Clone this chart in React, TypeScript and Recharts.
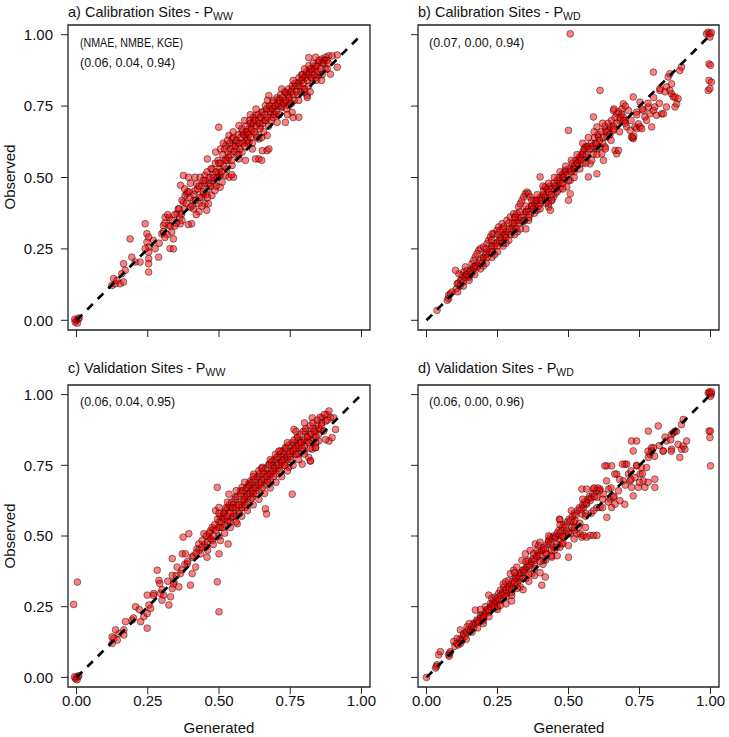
import { ScatterChart, Scatter, XAxis, YAxis, ReferenceArea } from 'recharts';

type Pt = [number, number];

const ticks = [0, 0.25, 0.5, 0.75, 1];
const titles = ['a) Calibration Sites - P', 'b) Calibration Sites - P', 'c) Validation Sites - P', 'd) Validation Sites - P'];
const subs = ['WW', 'WD', 'WW', 'WD'];
const statsHeader = '(NMAE, NMBE, KGE)';
const stats = ['(0.06, 0.04, 0.94)', '(0.07, 0.00, 0.94)', '(0.06, 0.04, 0.95)', '(0.06, 0.00, 0.96)'];
const oneToOne = [{ x: 0, y: 0 }, { x: 1, y: 1 }];

const X_DOM: [number, number] = [-0.03, 1.03];
const Y_DOM: [number, number] = [-0.034, 1.034];

// a) calibration sites, P_WW (generated, observed)
const calPww: Pt[] = [
  [0, 0], [0.006, 0.004], [-0.005, -0.006], [0.003, -0.01], [-0.006, 0.004], [0.009, 0.008],
  [0.124, 0.122], [0.136, 0.128], [0.13, 0.146], [0.142, 0.14], [0.153, 0.128], [0.165, 0.134],
  [0.159, 0.163], [0.171, 0.175], [0.165, 0.198], [0.194, 0.221], [0.188, 0.285], [0.206, 0.204],
  [0.223, 0.204], [0.241, 0.338], [0.247, 0.303], [0.253, 0.291], [0.247, 0.274], [0.253, 0.256],
  [0.253, 0.239], [0.253, 0.216], [0.253, 0.198], [0.253, 0.169], [0.241, 0.251], [0.276, 0.251],
  [0.288, 0.221], [0.299, 0.303], [0.305, 0.332], [0.311, 0.361], [0.323, 0.332], [0.328, 0.251],
  [0.334, 0.309], [0.34, 0.25], [0.34, 0.285], [0.352, 0.373], [0.364, 0.338], [0.369, 0.373],
  [0.375, 0.414], [0.381, 0.437], [0.387, 0.443], [0.399, 0.396], [0.404, 0.338], [0.41, 0.419],
  [0.416, 0.454], [0.422, 0.478], [0.428, 0.408], [0.44, 0.431], [0.446, 0.443], [0.451, 0.408],
  [0.457, 0.385], [0.463, 0.408], [0.463, 0.478], [0.475, 0.437], [0.486, 0.454], [0.498, 0.501],
  [0.504, 0.507], [0.375, 0.507], [0.393, 0.501], [0.416, 0.501], [0.434, 0.501], [0.451, 0.507],
  [0.475, 0.489], [0.504, 0.466], [0.365, 0.473], [0.392, 0.335], [0.43, 0.38], [0.44, 0.4],
  [0.499, 0.676], [0.459, 0.565], [0.476, 0.53], [0.499, 0.518], [0.523, 0.507], [0.551, 0.501],
  [0.488, 0.589], [0.505, 0.6], [0.523, 0.612], [0.535, 0.647], [0.546, 0.635], [0.558, 0.624],
  [0.57, 0.682], [0.581, 0.659], [0.593, 0.647], [0.605, 0.67], [0.617, 0.693], [0.628, 0.717],
  [0.64, 0.705], [0.652, 0.728], [0.663, 0.752], [0.675, 0.74], [0.687, 0.763], [0.698, 0.752],
  [0.71, 0.775], [0.722, 0.763], [0.733, 0.798], [0.745, 0.787], [0.757, 0.81], [0.768, 0.822],
  [0.78, 0.833], [0.792, 0.845], [0.803, 0.857], [0.815, 0.868], [0.827, 0.88], [0.839, 0.892],
  [0.85, 0.903], [0.862, 0.915], [0.874, 0.921], [0.885, 0.926], [0.897, 0.926], [0.915, 0.929],
  [0.839, 0.921], [0.675, 0.787], [0.669, 0.647], [0.652, 0.594], [0.669, 0.594], [0.628, 0.565],
  [0.593, 0.56], [0.78, 0.711], [0.809, 0.787], [0.891, 0.862], [0.915, 0.886], [0.757, 0.728],
  [0.733, 0.693], [0.704, 0.693], [0.64, 0.635], [0.617, 0.6], [0.57, 0.565], [0.523, 0.565],
  [0.546, 0.542], [0.511, 0.484], [0.535, 0.501], [0.581, 0.589], [0.605, 0.624], [0.745, 0.752],
  [0.792, 0.81], [0.827, 0.845], [0.85, 0.857], [0.815, 0.892], [0.862, 0.903], [0.815, 0.92],
  [0.545, 0.51], [0.64, 0.565], [0.65, 0.56], [0.675, 0.6], [0.76, 0.71], [0.81, 0.78],
  [0.62, 0.71], [0.7, 0.72], [0.72, 0.745], [0.66, 0.7], [0.6, 0.62], [0.595, 0.64],
  [0.61, 0.69], [0.63, 0.65], [0.69, 0.74], [0.71, 0.75], [0.735, 0.765], [0.755, 0.76],
  [0.79, 0.86], [0.8, 0.8], [0.84, 0.85], [0.87, 0.91], [0.56, 0.6], [0.575, 0.62],
  [0.53, 0.56], [0.54, 0.58], [0.6, 0.655], [0.615, 0.665], [0.645, 0.68], [0.68, 0.72],
  [0.305, 0.31], [0.31, 0.34], [0.318, 0.3], [0.325, 0.36], [0.33, 0.33], [0.345, 0.37],
  [0.35, 0.34], [0.357, 0.39], [0.362, 0.36], [0.37, 0.42], [0.378, 0.39], [0.385, 0.41],
  [0.39, 0.45], [0.398, 0.43], [0.405, 0.4], [0.412, 0.44], [0.418, 0.42], [0.425, 0.46],
  [0.432, 0.43], [0.438, 0.47], [0.444, 0.45], [0.449, 0.48], [0.455, 0.44],
  [0.452, 0.49], [0.458, 0.52], [0.463, 0.46], [0.468, 0.5], [0.472, 0.53], [0.479, 0.51],
  [0.483, 0.48], [0.487, 0.55], [0.49, 0.52], [0.494, 0.5], [0.497, 0.56], [0.502, 0.53],
  [0.506, 0.55], [0.509, 0.52], [0.513, 0.58], [0.517, 0.54], [0.52, 0.6], [0.524, 0.56],
  [0.527, 0.53], [0.531, 0.59], [0.534, 0.57], [0.538, 0.62], [0.541, 0.6], [0.544, 0.56],
  [0.548, 0.61], [0.551, 0.64], [0.554, 0.59], [0.557, 0.61], [0.561, 0.63], [0.564, 0.58],
  [0.567, 0.65], [0.571, 0.62], [0.574, 0.6], [0.577, 0.64], [0.58, 0.67], [0.584, 0.62],
  [0.587, 0.65], [0.59, 0.61], [0.594, 0.68], [0.597, 0.66], [0.601, 0.63], [0.604, 0.65],
  [0.607, 0.7], [0.611, 0.64], [0.614, 0.67], [0.617, 0.62], [0.621, 0.69], [0.624, 0.66],
  [0.627, 0.7], [0.631, 0.68], [0.634, 0.64], [0.637, 0.72], [0.641, 0.69], [0.644, 0.67],
  [0.647, 0.71], [0.651, 0.73], [0.654, 0.69], [0.657, 0.66], [0.661, 0.72], [0.664, 0.7],
  [0.667, 0.74], [0.671, 0.71], [0.674, 0.68], [0.677, 0.75], [0.681, 0.73], [0.684, 0.7],
  [0.687, 0.74], [0.691, 0.77], [0.694, 0.72], [0.697, 0.75], [0.701, 0.73], [0.704, 0.78],
  [0.707, 0.76], [0.711, 0.72], [0.714, 0.77], [0.717, 0.79], [0.721, 0.75], [0.724, 0.78],
  [0.727, 0.76], [0.731, 0.8], [0.734, 0.77], [0.737, 0.74], [0.741, 0.79], [0.744, 0.81],
  [0.747, 0.78], [0.751, 0.76], [0.754, 0.8], [0.757, 0.82], [0.761, 0.79], [0.764, 0.77],
  [0.767, 0.83], [0.771, 0.8], [0.774, 0.82], [0.777, 0.79], [0.781, 0.85], [0.784, 0.82],
  [0.787, 0.8], [0.791, 0.84], [0.794, 0.86], [0.797, 0.83], [0.801, 0.81], [0.804, 0.85],
  [0.807, 0.87], [0.811, 0.84], [0.814, 0.82], [0.817, 0.86], [0.821, 0.88], [0.824, 0.85],
  [0.827, 0.87], [0.831, 0.9], [0.834, 0.86], [0.837, 0.88], [0.841, 0.84], [0.844, 0.89],
  [0.847, 0.87], [0.851, 0.91], [0.857, 0.88], [0.862, 0.86], [0.868, 0.9], [0.873, 0.88],
  [0.879, 0.91], [0.884, 0.9], [0.27, 0.28], [0.29, 0.27], [0.31, 0.29], [0.32, 0.37],
  [0.335, 0.35], [0.345, 0.33], [0.36, 0.39], [0.37, 0.35], [0.38, 0.46], [0.395, 0.45],
  [0.4, 0.48], [0.41, 0.39], [0.42, 0.37], [0.43, 0.47], [0.445, 0.49], [0.46, 0.43],
  [0.47, 0.47], [0.48, 0.5], [0.49, 0.47], [0.5, 0.55], [0.515, 0.62], [0.53, 0.63],
  [0.55, 0.66], [0.57, 0.58], [0.59, 0.7], [0.61, 0.72], [0.63, 0.74], [0.65, 0.64],
  [0.67, 0.77], [0.69, 0.71], [0.72, 0.81], [0.74, 0.72], [0.76, 0.84], [0.78, 0.77],
  [0.8, 0.88], [0.82, 0.8], [0.86, 0.84], [0.88, 0.88],
];

// b) calibration sites, P_WD
const calPwd: Pt[] = [
  [0.037, 0.035], [0.073, 0.07], [0.078, 0.088], [0.084, 0.093], [0.09, 0.099], [0.078, 0.076],
  [0.108, 0.128], [0.119, 0.14], [0.125, 0.158], [0.131, 0.169], [0.137, 0.187], [0.114, 0.163],
  [0.102, 0.175], [0.143, 0.175], [0.155, 0.175], [0.16, 0.198], [0.166, 0.187], [0.172, 0.222],
  [0.178, 0.233], [0.184, 0.245], [0.166, 0.21], [0.19, 0.251], [0.201, 0.257], [0.213, 0.268],
  [0.219, 0.28], [0.225, 0.292], [0.231, 0.303], [0.237, 0.303], [0.248, 0.315], [0.254, 0.327],
  [0.26, 0.315], [0.266, 0.338], [0.272, 0.327], [0.272, 0.28], [0.278, 0.298], [0.283, 0.35],
  [0.295, 0.362], [0.301, 0.338], [0.307, 0.373], [0.313, 0.362], [0.318, 0.373], [0.324, 0.397],
  [0.33, 0.408], [0.336, 0.42], [0.342, 0.432], [0.348, 0.443], [0.354, 0.449], [0.359, 0.443],
  [0.365, 0.432], [0.377, 0.42], [0.383, 0.397], [0.389, 0.385], [0.4, 0.502], [0.4, 0.408],
  [0.406, 0.432], [0.412, 0.455], [0.418, 0.467], [0.424, 0.443], [0.43, 0.397], [0.436, 0.385],
  [0.441, 0.42], [0.447, 0.432], [0.453, 0.443], [0.459, 0.467], [0.465, 0.478], [0.471, 0.49],
  [0.477, 0.502], [0.482, 0.513], [0.488, 0.525], [0.494, 0.467], [0.5, 0.42], [0.506, 0.443],
  [0.506, 0.49], [0.512, 0.525], [0.518, 0.537], [0.523, 0.543], [0.529, 0.548], [0.535, 0.56],
  [0.541, 0.572], [0.547, 0.583], [0.553, 0.595], [0.559, 0.607], [0.564, 0.572], [0.57, 0.502],
  [0.576, 0.548], [0.582, 0.56], [0.588, 0.583], [0.594, 0.618], [0.6, 0.513], [0.605, 0.642],
  [0.611, 0.607], [0.617, 0.583], [0.623, 0.56], [0.629, 0.607], [0.635, 0.642], [0.641, 0.665],
  [0.646, 0.677], [0.658, 0.665], [0.664, 0.595], [0.67, 0.583], [0.676, 0.595], [0.681, 0.7],
  [0.687, 0.723], [0.693, 0.712], [0.699, 0.7], [0.705, 0.677], [0.717, 0.665], [0.722, 0.642],
  [0.728, 0.636], [0.725, 0.64], [0.73, 0.645], [0.734, 0.677], [0.74, 0.671], [0.746, 0.688],
  [0.752, 0.677], [0.758, 0.671], [0.763, 0.735], [0.769, 0.712], [0.775, 0.7], [0.781, 0.747],
  [0.787, 0.723], [0.793, 0.677], [0.799, 0.735], [0.804, 0.747], [0.81, 0.718], [0.822, 0.805],
  [0.828, 0.723], [0.834, 0.723], [0.845, 0.817], [0.851, 0.852], [0.857, 0.805], [0.863, 0.828],
  [0.863, 0.793], [0.869, 0.782], [0.875, 0.747], [0.881, 0.758], [0.886, 0.776], [0.892, 0.875],
  [0.898, 0.887], [0.845, 0.747], [0.857, 0.863], [0.611, 0.805], [0.658, 0.735], [0.67, 0.723],
  [0.693, 0.758], [0.711, 0.735], [0.728, 0.782], [0.74, 0.729], [0.752, 0.764], [0.799, 0.869],
  [0.822, 0.811], [0.875, 0.782], [0.5, 0.665], [0.506, 1.003], [0.588, 0.712], [0.6, 0.677],
  [0.564, 0.607], [0.629, 0.665], [0.986, 1.003], [0.992, 1.009], [0.998, 1.003], [1.003, 1.007],
  [0.998, 0.992], [0.995, 0.898], [1.0, 0.893], [0.995, 0.84], [1.003, 0.834], [0.992, 0.805],
  [0.998, 0.811], [0.2, 0.22], [0.21, 0.235], [0.23, 0.26], [0.245, 0.27], [0.26, 0.29],
  [0.28, 0.31], [0.3, 0.32], [0.32, 0.35], [0.35, 0.38], [0.37, 0.4], [0.39, 0.42],
  [0.42, 0.42], [0.45, 0.46], [0.47, 0.46], [0.52, 0.52], [0.55, 0.55], [0.58, 0.6],
  [0.6, 0.6], [0.62, 0.62], [0.65, 0.63], [0.15, 0.15], [0.18, 0.19], [0.14, 0.16],
  [0.105, 0.11], [0.112, 0.13], [0.118, 0.12], [0.124, 0.14], [0.13, 0.135], [0.136, 0.15],
  [0.142, 0.16], [0.148, 0.155], [0.154, 0.17], [0.16, 0.165], [0.166, 0.18], [0.172, 0.19],
  [0.178, 0.185], [0.184, 0.2], [0.19, 0.21], [0.196, 0.2], [0.202, 0.22], [0.208, 0.23],
  [0.214, 0.22], [0.22, 0.24], [0.226, 0.25], [0.232, 0.24], [0.238, 0.26], [0.244, 0.27],
  [0.25, 0.26], [0.256, 0.28], [0.262, 0.29], [0.268, 0.27], [0.274, 0.3], [0.28, 0.29],
  [0.286, 0.31], [0.292, 0.32], [0.298, 0.3], [0.304, 0.33], [0.31, 0.34], [0.316, 0.32],
  [0.322, 0.35], [0.328, 0.34], [0.334, 0.36], [0.34, 0.37], [0.346, 0.35], [0.352, 0.38],
  [0.358, 0.39], [0.364, 0.37], [0.37, 0.4], [0.376, 0.39], [0.382, 0.41], [0.388, 0.42],
  [0.394, 0.4], [0.4, 0.43], [0.406, 0.42], [0.412, 0.44], [0.418, 0.43], [0.424, 0.46],
  [0.43, 0.45], [0.436, 0.47], [0.442, 0.46], [0.448, 0.48], [0.454, 0.47], [0.46, 0.49],
  [0.466, 0.5], [0.472, 0.48], [0.478, 0.51], [0.484, 0.5], [0.49, 0.52], [0.496, 0.51],
  [0.502, 0.53], [0.508, 0.52], [0.514, 0.55], [0.52, 0.53], [0.526, 0.56], [0.532, 0.55],
  [0.538, 0.57], [0.544, 0.56], [0.55, 0.58], [0.556, 0.6], [0.562, 0.58], [0.568, 0.61],
  [0.574, 0.6], [0.58, 0.62], [0.586, 0.61], [0.592, 0.64], [0.598, 0.62], [0.604, 0.65],
  [0.61, 0.63], [0.616, 0.66], [0.622, 0.64], [0.628, 0.68], [0.634, 0.66], [0.64, 0.69],
  [0.646, 0.65], [0.652, 0.7], [0.658, 0.68], [0.664, 0.71], [0.67, 0.69], [0.676, 0.73],
  [0.682, 0.71], [0.688, 0.74], [0.694, 0.7], [0.7, 0.75], [0.2, 0.19], [0.24, 0.23],
  [0.28, 0.27], [0.32, 0.31], [0.36, 0.35], [0.44, 0.42], [0.48, 0.46], [0.35, 0.32],
  [0.43, 0.41], [0.11, 0.1], [0.13, 0.12], [0.15, 0.14], [0.17, 0.16], [0.19, 0.18],
  [0.21, 0.2], [0.23, 0.22], [0.25, 0.24], [0.27, 0.26], [0.29, 0.28], [0.31, 0.3],
  [0.33, 0.32], [0.34, 0.345], [0.36, 0.36], [0.38, 0.375], [0.4, 0.39], [0.42, 0.41],
  [0.44, 0.44], [0.46, 0.45], [0.48, 0.48], [0.5, 0.49], [0.52, 0.5], [0.54, 0.53],
  [0.56, 0.55], [0.21, 0.25], [0.23, 0.28], [0.25, 0.3], [0.27, 0.32], [0.29, 0.34],
  [0.31, 0.36], [0.33, 0.38], [0.35, 0.4], [0.37, 0.42], [0.39, 0.44], [0.41, 0.47],
  [0.43, 0.48], [0.45, 0.5], [0.47, 0.52], [0.49, 0.54], [0.51, 0.56], [0.53, 0.58],
  [0.55, 0.62], [0.57, 0.64], [0.59, 0.66], [0.62, 0.69], [0.66, 0.74], [0.7, 0.69],
  [0.72, 0.7], [0.76, 0.74], [0.78, 0.76], [0.8, 0.78], [0.82, 0.76], [0.84, 0.8],
  [0.66, 0.67], [0.68, 0.66], [0.74, 0.72], [0.6, 0.58], [0.63, 0.6],
];

// c) validation sites, P_WW
const valPww: Pt[] = [
  [0, 0], [0.005, 0.003], [-0.004, -0.005], [0.002, -0.008], [0.008, 0.006], [-0.007, 0.002],
  [-0.01, 0.258], [0.003, 0.337], [0.125, 0.12], [0.131, 0.138], [0.137, 0.168], [0.125, 0.143],
  [0.143, 0.132], [0.149, 0.155], [0.166, 0.168], [0.166, 0.15], [0.172, 0.197], [0.195, 0.203],
  [0.207, 0.25], [0.225, 0.197], [0.236, 0.215], [0.248, 0.226], [0.248, 0.174], [0.254, 0.256],
  [0.248, 0.291], [0.26, 0.244], [0.271, 0.297], [0.283, 0.379], [0.289, 0.343], [0.292, 0.332],
  [0.295, 0.297], [0.3, 0.273], [0.306, 0.291], [0.324, 0.256], [0.33, 0.285], [0.336, 0.314],
  [0.336, 0.361], [0.336, 0.42], [0.342, 0.338], [0.353, 0.39], [0.359, 0.32], [0.365, 0.367],
  [0.371, 0.437], [0.374, 0.496], [0.382, 0.437], [0.388, 0.402], [0.394, 0.508], [0.4, 0.326],
  [0.406, 0.367], [0.406, 0.425], [0.418, 0.39], [0.423, 0.455], [0.429, 0.472], [0.435, 0.437],
  [0.441, 0.484], [0.447, 0.508], [0.453, 0.461], [0.458, 0.425], [0.464, 0.496], [0.47, 0.519],
  [0.476, 0.484], [0.482, 0.525], [0.488, 0.59], [0.494, 0.672], [0.494, 0.338], [0.5, 0.232],
  [0.5, 0.549], [0.5, 0.601], [0.5, 0.437], [0.505, 0.484], [0.505, 0.531], [0.511, 0.566],
  [0.517, 0.578], [0.523, 0.59], [0.529, 0.555], [0.532, 0.472], [0.535, 0.648], [0.54, 0.601],
  [0.546, 0.566], [0.552, 0.613], [0.558, 0.637], [0.564, 0.543], [0.57, 0.59], [0.575, 0.66],
  [0.581, 0.672], [0.587, 0.625], [0.593, 0.601], [0.599, 0.648], [0.605, 0.684], [0.611, 0.695],
  [0.617, 0.637], [0.622, 0.719], [0.628, 0.672], [0.634, 0.707], [0.64, 0.731], [0.646, 0.684],
  [0.652, 0.743], [0.657, 0.719], [0.663, 0.596], [0.667, 0.578], [0.669, 0.695], [0.675, 0.754],
  [0.681, 0.719], [0.687, 0.766], [0.692, 0.743], [0.698, 0.789], [0.704, 0.754], [0.71, 0.778],
  [0.716, 0.801], [0.722, 0.766], [0.727, 0.789], [0.733, 0.813], [0.739, 0.778], [0.745, 0.743],
  [0.751, 0.801], [0.757, 0.648], [0.763, 0.825], [0.763, 0.877], [0.768, 0.789], [0.774, 0.848],
  [0.78, 0.813], [0.786, 0.836], [0.792, 0.754], [0.798, 0.801], [0.803, 0.871], [0.809, 0.836],
  [0.815, 0.778], [0.821, 0.766], [0.827, 0.918], [0.827, 0.807], [0.833, 0.848], [0.839, 0.871],
  [0.845, 0.895], [0.85, 0.836], [0.856, 0.877], [0.862, 0.918], [0.868, 0.871], [0.874, 0.906],
  [0.88, 0.93], [0.886, 0.942], [0.892, 0.918], [0.886, 0.836], [0.897, 0.848], [0.909, 0.877],
  [0.903, 0.918], [0.839, 0.813], [0.827, 0.836], [0.874, 0.841], [0.839, 0.812], [0.821, 0.765],
  [0.54, 0.55], [0.55, 0.58], [0.56, 0.57], [0.57, 0.61], [0.58, 0.6], [0.59, 0.64],
  [0.6, 0.62], [0.61, 0.66], [0.62, 0.65], [0.63, 0.68], [0.64, 0.66], [0.65, 0.7],
  [0.66, 0.68], [0.67, 0.72], [0.68, 0.7], [0.69, 0.73], [0.7, 0.72], [0.71, 0.74],
  [0.72, 0.76], [0.73, 0.75], [0.74, 0.77], [0.75, 0.78], [0.76, 0.8], [0.77, 0.82],
  [0.78, 0.79], [0.79, 0.83], [0.8, 0.82], [0.81, 0.85], [0.82, 0.86], [0.83, 0.88],
  [0.85, 0.86], [0.86, 0.9], [0.52, 0.54], [0.53, 0.6], [0.55, 0.6], [0.6, 0.67],
  [0.45, 0.47], [0.455, 0.5], [0.46, 0.48], [0.466, 0.51], [0.471, 0.49], [0.476, 0.53],
  [0.48, 0.5], [0.485, 0.54], [0.49, 0.52], [0.495, 0.56], [0.5, 0.53], [0.504, 0.57],
  [0.508, 0.55], [0.512, 0.53], [0.516, 0.58], [0.52, 0.56], [0.524, 0.6], [0.528, 0.57],
  [0.532, 0.55], [0.536, 0.61], [0.54, 0.58], [0.544, 0.62], [0.548, 0.6], [0.552, 0.57],
  [0.556, 0.63], [0.56, 0.6], [0.564, 0.64], [0.568, 0.61], [0.572, 0.58], [0.576, 0.65],
  [0.58, 0.62], [0.584, 0.66], [0.588, 0.63], [0.592, 0.61], [0.596, 0.67], [0.6, 0.64],
  [0.604, 0.68], [0.608, 0.65], [0.612, 0.63], [0.616, 0.69], [0.62, 0.66], [0.624, 0.7],
  [0.628, 0.67], [0.632, 0.65], [0.636, 0.71], [0.64, 0.68], [0.644, 0.72], [0.648, 0.69],
  [0.652, 0.67], [0.656, 0.73], [0.66, 0.7], [0.664, 0.74], [0.668, 0.71], [0.672, 0.69],
  [0.676, 0.75], [0.68, 0.72], [0.684, 0.76], [0.688, 0.73], [0.692, 0.71], [0.696, 0.77],
  [0.7, 0.74], [0.704, 0.78], [0.708, 0.75], [0.712, 0.73], [0.716, 0.79], [0.72, 0.76],
  [0.724, 0.8], [0.728, 0.77], [0.732, 0.75], [0.736, 0.81], [0.74, 0.78], [0.744, 0.82],
  [0.748, 0.79], [0.752, 0.77], [0.756, 0.83], [0.76, 0.8], [0.764, 0.84], [0.768, 0.81],
  [0.772, 0.79], [0.776, 0.85], [0.78, 0.82], [0.784, 0.86], [0.788, 0.83], [0.792, 0.81],
  [0.796, 0.87], [0.8, 0.84], [0.805, 0.88], [0.81, 0.85], [0.815, 0.83], [0.82, 0.89],
  [0.825, 0.86], [0.83, 0.9], [0.835, 0.87], [0.84, 0.85], [0.845, 0.91], [0.85, 0.88],
  [0.855, 0.92], [0.86, 0.89], [0.87, 0.93], [0.88, 0.91], [0.35, 0.36], [0.38, 0.4],
  [0.41, 0.43], [0.43, 0.45], [0.44, 0.46], [0.42, 0.44], [0.39, 0.41], [0.37, 0.38],
  [0.46, 0.45], [0.48, 0.47], [0.5, 0.5], [0.52, 0.51], [0.54, 0.53], [0.56, 0.55],
  [0.58, 0.57], [0.6, 0.59], [0.62, 0.61], [0.64, 0.63], [0.66, 0.65], [0.68, 0.67],
  [0.7, 0.69], [0.72, 0.71], [0.74, 0.73], [0.76, 0.75], [0.78, 0.77], [0.8, 0.79],
  [0.82, 0.81], [0.84, 0.83], [0.5, 0.58], [0.53, 0.62], [0.56, 0.66], [0.59, 0.69],
  [0.62, 0.71], [0.65, 0.74], [0.68, 0.77], [0.71, 0.8], [0.74, 0.83], [0.77, 0.87],
  [0.8, 0.9], [0.3, 0.31], [0.32, 0.34], [0.34, 0.33], [0.27, 0.29], [0.22, 0.24],
  [0.2, 0.21],
];

// d) validation sites, P_WD
const valPwd: Pt[] = [
  [0, 0], [0.032, 0.033], [0.037, 0.045], [0.043, 0.08], [0.049, 0.091], [0.035, 0.039],
  [0.078, 0.08], [0.084, 0.091], [0.08, 0.075], [0.082, 0.086], [0.096, 0.127], [0.108, 0.138],
  [0.119, 0.168], [0.131, 0.156], [0.125, 0.132], [0.143, 0.179], [0.155, 0.168], [0.166, 0.191],
  [0.172, 0.238], [0.178, 0.203], [0.19, 0.22], [0.201, 0.215], [0.207, 0.25], [0.213, 0.238],
  [0.219, 0.291], [0.225, 0.261], [0.231, 0.25], [0.237, 0.273], [0.242, 0.285], [0.248, 0.267],
  [0.254, 0.297], [0.26, 0.308], [0.272, 0.32], [0.278, 0.338], [0.283, 0.297], [0.289, 0.343],
  [0.295, 0.367], [0.301, 0.32], [0.307, 0.379], [0.313, 0.355], [0.318, 0.39], [0.324, 0.343],
  [0.33, 0.367], [0.336, 0.414], [0.342, 0.379], [0.348, 0.437], [0.354, 0.39], [0.359, 0.414],
  [0.365, 0.449], [0.371, 0.367], [0.377, 0.437], [0.383, 0.472], [0.389, 0.425], [0.395, 0.466],
  [0.4, 0.478], [0.406, 0.326], [0.406, 0.449], [0.412, 0.414], [0.418, 0.355], [0.424, 0.437],
  [0.43, 0.484], [0.436, 0.496], [0.441, 0.425], [0.447, 0.461], [0.453, 0.496], [0.459, 0.461],
  [0.465, 0.502], [0.471, 0.484], [0.477, 0.472], [0.482, 0.496], [0.488, 0.508], [0.494, 0.519],
  [0.5, 0.425], [0.5, 0.466], [0.506, 0.508], [0.512, 0.531], [0.518, 0.549], [0.523, 0.555],
  [0.529, 0.508], [0.535, 0.531], [0.541, 0.508], [0.547, 0.496], [0.553, 0.502], [0.564, 0.496],
  [0.576, 0.502], [0.588, 0.502], [0.6, 0.502], [0.468, 0.56], [0.547, 0.578], [0.553, 0.601],
  [0.564, 0.613], [0.576, 0.625], [0.588, 0.59], [0.6, 0.637], [0.611, 0.601], [0.623, 0.648],
  [0.635, 0.566], [0.641, 0.666], [0.646, 0.631], [0.652, 0.601], [0.658, 0.637], [0.664, 0.613],
  [0.67, 0.719], [0.676, 0.66], [0.681, 0.625], [0.693, 0.695], [0.699, 0.754], [0.705, 0.754],
  [0.711, 0.719], [0.717, 0.695], [0.722, 0.672], [0.728, 0.642], [0.734, 0.707], [0.74, 0.748],
  [0.746, 0.672], [0.752, 0.719], [0.757, 0.742], [0.763, 0.695], [0.769, 0.672], [0.775, 0.742],
  [0.781, 0.778], [0.787, 0.789], [0.793, 0.801], [0.799, 0.813], [0.804, 0.701], [0.804, 0.672],
  [0.816, 0.889], [0.781, 0.871], [0.722, 0.836], [0.74, 0.836], [0.728, 0.801], [0.635, 0.748],
  [0.652, 0.748], [0.547, 0.666], [0.564, 0.666], [0.588, 0.666], [0.611, 0.666], [0.834, 0.801],
  [0.845, 0.836], [0.863, 0.859], [0.869, 0.865], [0.875, 0.871], [0.886, 0.824], [0.892, 0.778],
  [0.898, 0.807], [0.904, 0.818], [0.91, 0.807], [0.916, 0.836], [0.898, 0.894], [0.904, 0.912],
  [0.863, 0.807], [0.992, 1.006], [0.998, 1.006], [1.003, 1.002], [1.0, 0.994], [0.996, 1.01],
  [1.004, 1.01], [0.995, 0.871], [1.0, 0.871], [0.998, 0.848], [1.0, 0.748], [0.698, 0.612],
  [0.47, 0.557], [0.61, 0.66], [0.628, 0.748], [0.663, 0.719], [0.634, 0.695], [0.75, 0.69],
  [0.78, 0.69], [0.803, 0.782], [0.862, 0.8], [0.833, 0.8], [0.792, 0.811], [0.69, 0.754],
  [0.2, 0.2], [0.22, 0.23], [0.25, 0.25], [0.27, 0.28], [0.3, 0.3], [0.32, 0.33],
  [0.35, 0.35], [0.38, 0.4], [0.42, 0.44], [0.45, 0.45], [0.48, 0.5], [0.52, 0.52],
  [0.56, 0.58], [0.6, 0.6], [0.62, 0.63], [0.65, 0.67], [0.68, 0.7], [0.72, 0.73],
  [0.1, 0.11], [0.106, 0.12], [0.112, 0.115], [0.118, 0.135], [0.124, 0.13], [0.13, 0.15],
  [0.136, 0.145], [0.142, 0.16], [0.148, 0.17], [0.154, 0.165], [0.16, 0.18], [0.166, 0.175],
  [0.172, 0.19], [0.178, 0.2], [0.184, 0.195], [0.19, 0.21], [0.196, 0.22], [0.202, 0.215],
  [0.208, 0.23], [0.214, 0.24], [0.22, 0.235], [0.226, 0.25], [0.232, 0.26], [0.238, 0.255],
  [0.244, 0.27], [0.25, 0.28], [0.256, 0.275], [0.262, 0.29], [0.268, 0.3], [0.274, 0.295],
  [0.28, 0.31], [0.286, 0.32], [0.292, 0.315], [0.298, 0.33], [0.304, 0.34], [0.31, 0.335],
  [0.316, 0.35], [0.322, 0.36], [0.328, 0.355], [0.334, 0.37], [0.34, 0.38], [0.346, 0.375],
  [0.352, 0.39], [0.358, 0.4], [0.364, 0.395], [0.37, 0.41], [0.376, 0.42], [0.382, 0.415],
  [0.388, 0.43], [0.394, 0.44], [0.4, 0.435], [0.406, 0.45], [0.412, 0.46], [0.418, 0.455],
  [0.424, 0.47], [0.43, 0.48], [0.436, 0.475], [0.442, 0.49], [0.448, 0.5], [0.454, 0.495],
  [0.46, 0.51], [0.466, 0.52], [0.472, 0.515], [0.478, 0.53], [0.484, 0.54], [0.49, 0.535],
  [0.496, 0.55], [0.502, 0.56], [0.508, 0.555], [0.514, 0.57], [0.52, 0.58], [0.526, 0.575],
  [0.532, 0.59], [0.538, 0.6], [0.544, 0.595], [0.55, 0.61], [0.556, 0.62], [0.562, 0.615],
  [0.568, 0.63], [0.574, 0.64], [0.58, 0.635], [0.586, 0.65], [0.592, 0.64], [0.598, 0.66],
  [0.604, 0.67], [0.2, 0.19], [0.25, 0.24], [0.3, 0.29], [0.33, 0.32], [0.38, 0.36],
  [0.41, 0.4], [0.44, 0.43], [0.47, 0.46], [0.28, 0.26], [0.36, 0.34], [0.12, 0.12],
  [0.14, 0.135], [0.16, 0.16], [0.18, 0.175], [0.2, 0.21], [0.22, 0.215], [0.24, 0.245],
  [0.26, 0.255], [0.28, 0.285], [0.3, 0.31], [0.32, 0.315], [0.34, 0.35], [0.36, 0.365],
  [0.38, 0.385], [0.4, 0.41], [0.42, 0.415], [0.44, 0.45], [0.46, 0.47], [0.48, 0.475],
  [0.5, 0.51], [0.52, 0.53], [0.54, 0.545], [0.56, 0.57], [0.58, 0.58], [0.15, 0.19],
  [0.19, 0.24], [0.23, 0.28], [0.27, 0.33], [0.31, 0.37], [0.35, 0.41], [0.39, 0.45],
  [0.43, 0.5], [0.47, 0.54], [0.51, 0.59], [0.55, 0.63], [0.59, 0.67], [0.62, 0.6],
  [0.64, 0.62], [0.66, 0.64], [0.7, 0.68], [0.72, 0.7], [0.74, 0.75], [0.76, 0.72],
  [0.78, 0.8], [0.82, 0.82], [0.84, 0.85], [0.86, 0.84], [0.88, 0.87], [0.3, 0.27],
  [0.34, 0.31], [0.4, 0.37], [0.46, 0.43], [0.52, 0.49], [0.56, 0.53],
];

const panels = [calPww, calPwd, valPww, valPwd];

const Dot = (p: any) => (
  <circle cx={p.cx} cy={p.cy} r={3.4} fill="#ff0000" fillOpacity={0.5} stroke="#000" strokeOpacity={0.55} strokeWidth={0.8} />
);

const NoDot = () => <g />;

interface PanelProps {
  pts: Pt[];
  left: number;
  top: number;
  width: number;
  height: number;
  bottomLabels: boolean;
  leftLabels: boolean;
}

const Panel = ({ pts, left, top, width, height, bottomLabels, leftLabels }: PanelProps) => {
  const data = pts.map(([x, y]) => ({ x, y }));
  return (
    <div style={{ position: 'absolute', left, top }}>
      <ScatterChart width={width} height={height} margin={{ top: 25, right: 10, bottom: 0, left: 0 }}>
        <XAxis
          type="number"
          dataKey="x"
          domain={X_DOM}
          allowDataOverflow
          ticks={ticks}
          interval={0}
          axisLine={false}
          tickLine={{ stroke: '#222' }}
          tickSize={7}
          tickMargin={1}
          height={bottomLabels ? 50 : 15}
          tick={{ fill: '#111', fontSize: 15 }}
          tickFormatter={(v: number) => (bottomLabels ? v.toFixed(2) : '')}
        />
        <YAxis
          type="number"
          dataKey="y"
          domain={Y_DOM}
          allowDataOverflow
          ticks={ticks}
          interval={0}
          axisLine={false}
          tickLine={{ stroke: '#222' }}
          tickSize={7}
          tickMargin={8}
          width={68}
          tick={{ fill: '#111', fontSize: 15 }}
          tickFormatter={(v: number) => (leftLabels ? v.toFixed(2) : '')}
        />
        <ReferenceArea x1={X_DOM[0]} x2={X_DOM[1]} y1={Y_DOM[0]} y2={Y_DOM[1]} fill="none" stroke="#222" strokeWidth={1.3} />
        <Scatter data={data} shape={Dot} isAnimationActive={false} />
        <Scatter
          data={oneToOne}
          shape={NoDot}
          line={{ stroke: '#000', strokeWidth: 2.7, strokeDasharray: '8 7' }}
          isAnimationActive={false}
        />
      </ScatterChart>
    </div>
  );
};

const panelPos = [
  { left: 0, top: 0, width: 380, height: 345, bottomLabels: false, leftLabels: true },
  { left: 350, top: 0, width: 379, height: 345, bottomLabels: false, leftLabels: false },
  { left: 0, top: 360, width: 380, height: 377, bottomLabels: true, leftLabels: true },
  { left: 350, top: 360, width: 379, height: 377, bottomLabels: true, leftLabels: false },
];

const titlePos = [
  { x: 68, y: 17 },
  { x: 418, y: 17 },
  { x: 68, y: 373 },
  { x: 418, y: 373 },
];

const statsPos = [
  { x: 80, y: 67 },
  { x: 429, y: 47 },
  { x: 80, y: 406 },
  { x: 429, y: 406 },
];

export default function App() {
  return (
    <div
      style={{
        position: 'absolute',
        left: 0,
        top: 0,
        width: 729,
        height: 737,
        background: '#fff',
        fontFamily: '"Liberation Sans", Arial, sans-serif',
      }}
    >
      {panels.map((pts, i) => (
        <Panel key={i} pts={pts} {...panelPos[i]} />
      ))}
      <svg width={729} height={737} style={{ position: 'absolute', left: 0, top: 0, pointerEvents: 'none' }}>
        {titles.map((t, i) => (
          <text key={t + i} x={titlePos[i].x} y={titlePos[i].y} fontSize={14.5} fill="#111">
            {t}
            <tspan fontSize={10.5} dy={3}>{subs[i]}</tspan>
          </text>
        ))}
        <text x={80} y={47} fontSize={12.5} fill="#111" textLength={103} lengthAdjust="spacingAndGlyphs">{statsHeader}</text>
        {stats.map((s, i) => (
          <text key={s + i} x={statsPos[i].x} y={statsPos[i].y} fontSize={12.5} fill="#111">{s}</text>
        ))}
        <text x={15} y={177} fontSize={15} fill="#111" textAnchor="middle" transform="rotate(-90 15 177)">Observed</text>
        <text x={15} y={536} fontSize={15} fill="#111" textAnchor="middle" transform="rotate(-90 15 536)">Observed</text>
        <text x={219} y={733} fontSize={15} fill="#111" textAnchor="middle">Generated</text>
        <text x={569} y={733} fontSize={15} fill="#111" textAnchor="middle">Generated</text>
      </svg>
    </div>
  );
}
